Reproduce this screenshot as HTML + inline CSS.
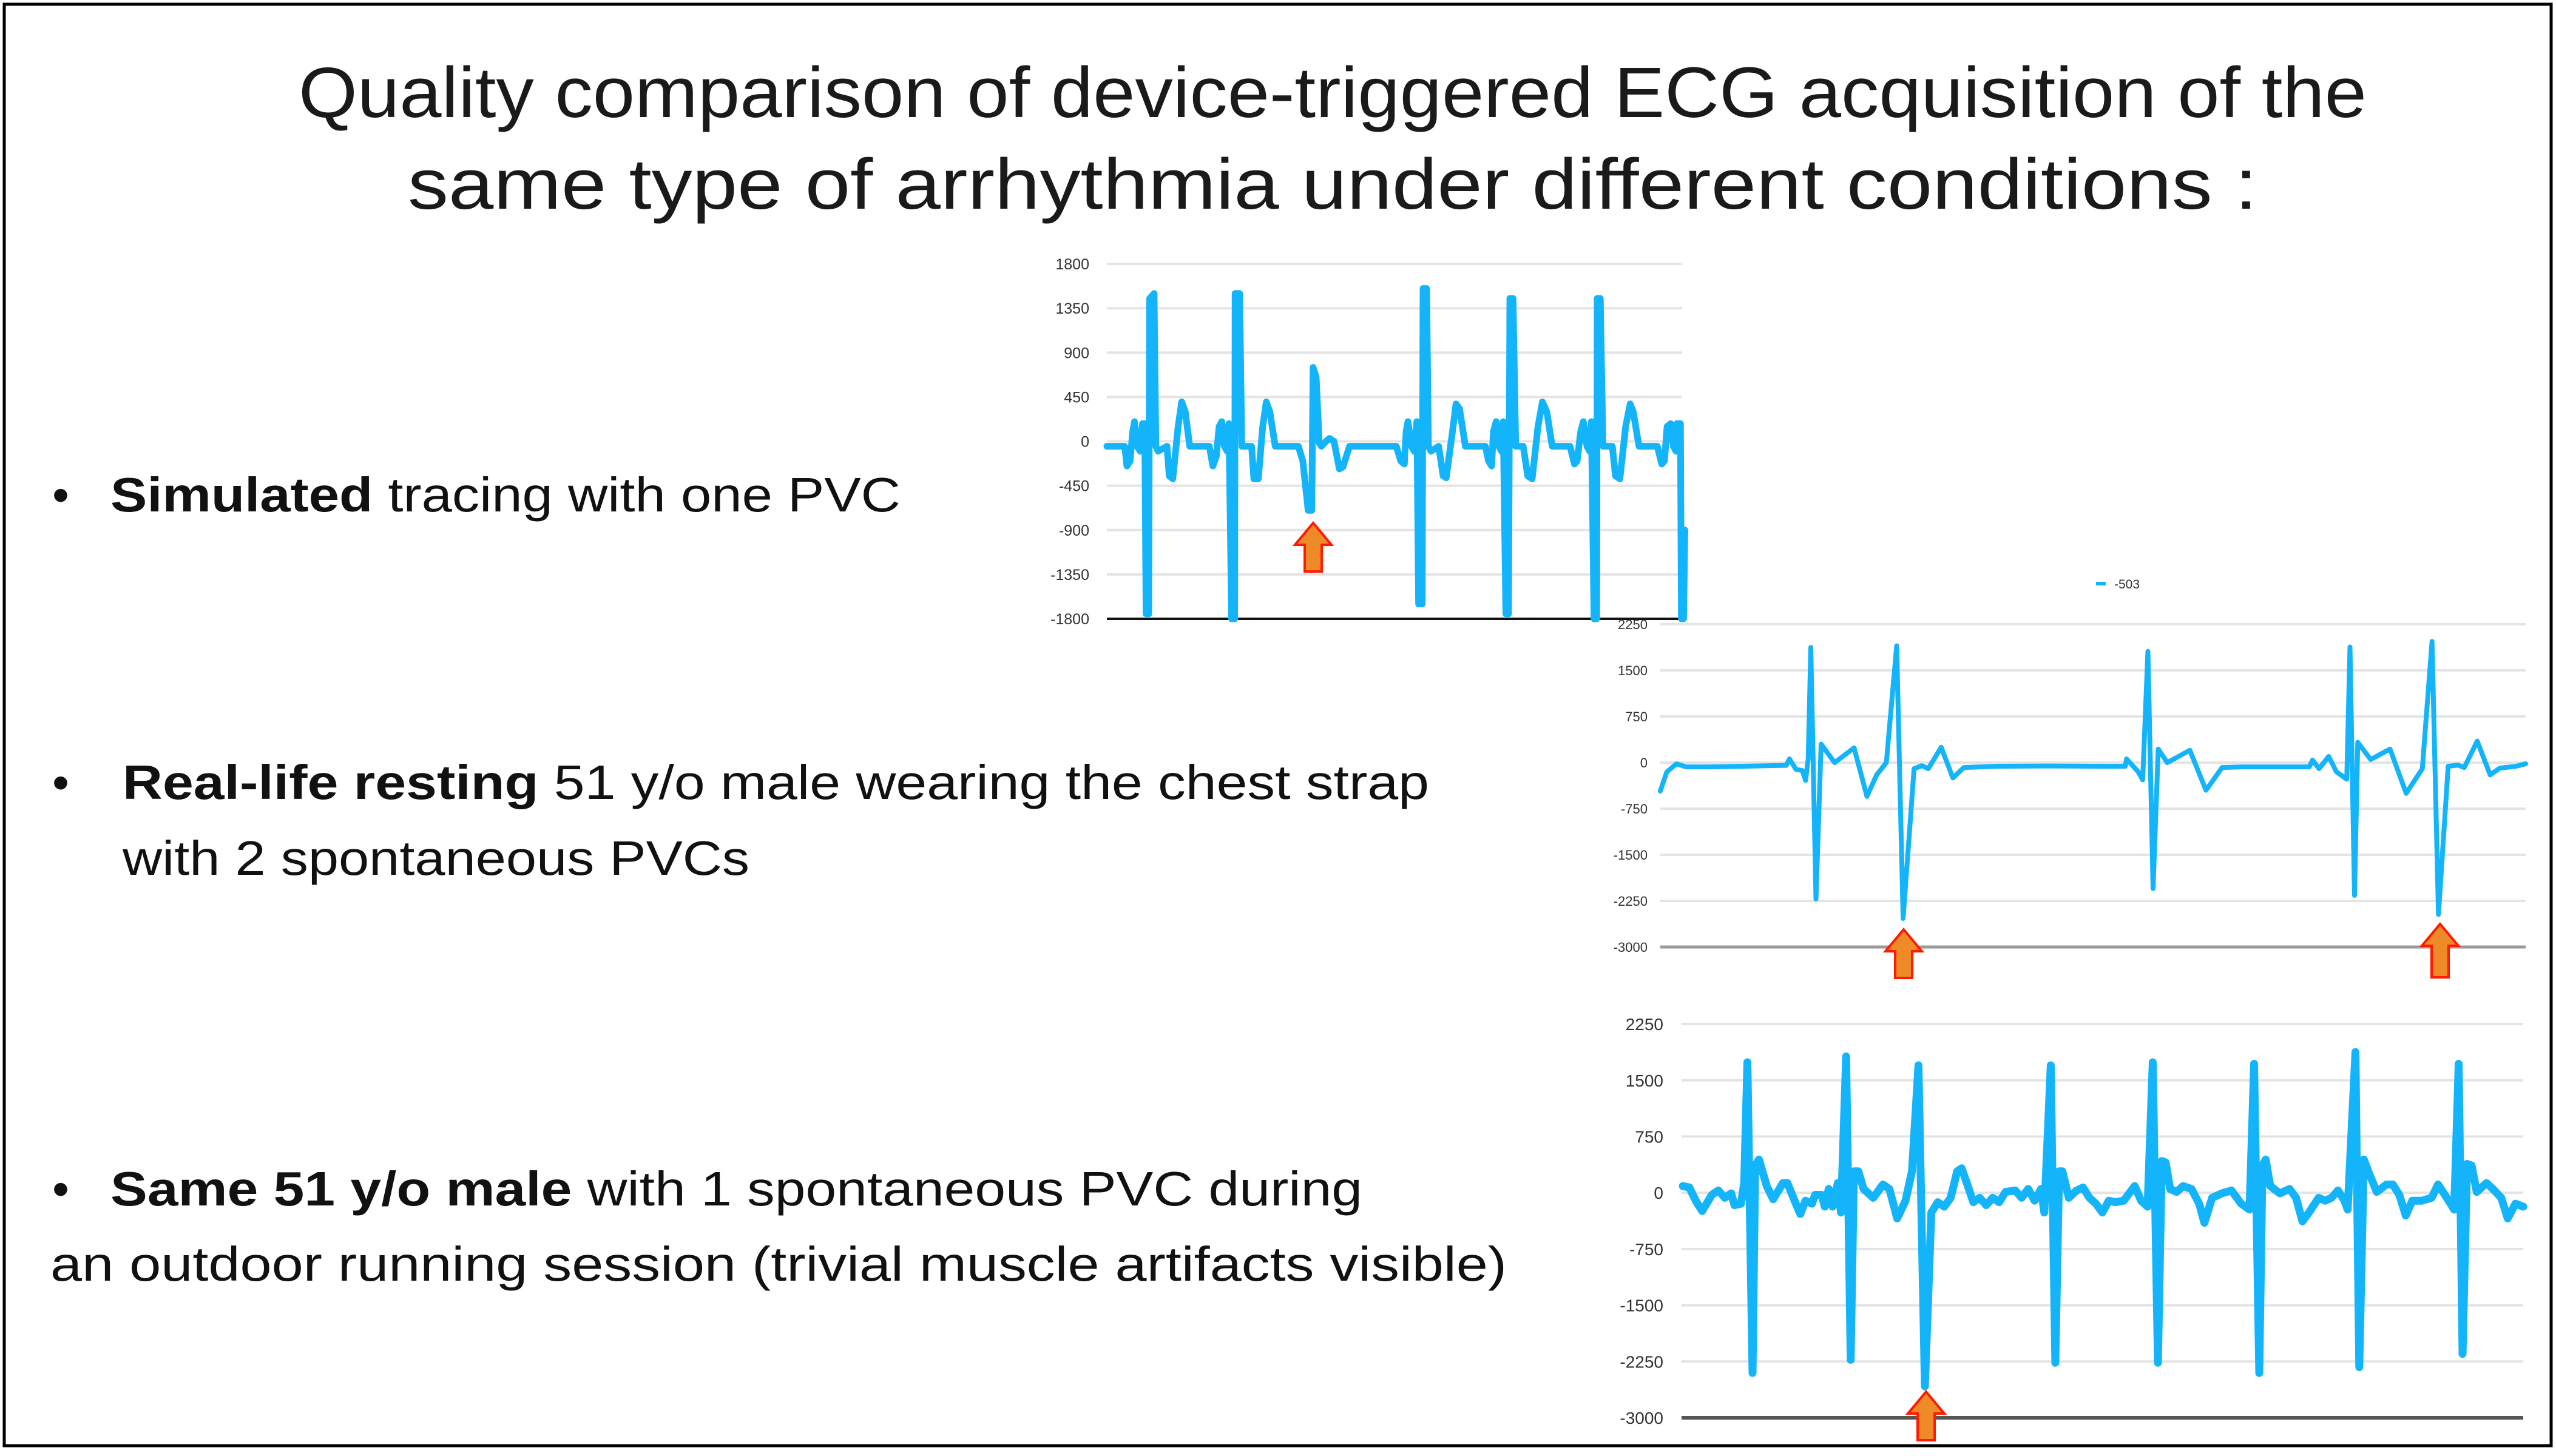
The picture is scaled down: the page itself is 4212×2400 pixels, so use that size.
<!DOCTYPE html>
<html><head><meta charset="utf-8"><title>ECG quality comparison</title>
<style>html,body{margin:0;padding:0;background:#fff}svg{display:block}</style></head>
<body>
<svg id="root" xmlns="http://www.w3.org/2000/svg" width="4212" height="2400" viewBox="0 0 4212 2400">
<rect x="0" y="0" width="4212" height="2400" fill="#fff"/>
<rect x="7" y="7" width="4197" height="2376" fill="none" stroke="#000" stroke-width="5"/>
<g font-family="'Liberation Sans', sans-serif" fill="#111">
<text x="492" y="193" font-size="118" fill="#1a1a1a" textLength="3408" lengthAdjust="spacingAndGlyphs">Quality comparison of device-triggered ECG acquisition of the</text>
<text x="672" y="344" font-size="118" fill="#1a1a1a" textLength="3048" lengthAdjust="spacingAndGlyphs">same type of arrhythmia under different conditions :</text>
<text x="86" y="843" font-size="80">•</text>
<text x="182" y="843" font-size="80" textLength="1302" lengthAdjust="spacingAndGlyphs"><tspan font-weight="bold">Simulated</tspan> tracing with one PVC</text>
<text x="86" y="1317" font-size="80">•</text>
<text x="202" y="1317" font-size="80" textLength="2153" lengthAdjust="spacingAndGlyphs"><tspan font-weight="bold">Real-life resting</tspan> 51 y/o male wearing the chest strap</text>
<text x="202" y="1442" font-size="80" textLength="1033" lengthAdjust="spacingAndGlyphs">with 2 spontaneous PVCs</text>
<text x="86" y="1987" font-size="80">•</text>
<text x="182" y="1987" font-size="80" textLength="2063" lengthAdjust="spacingAndGlyphs"><tspan font-weight="bold">Same 51 y/o male</tspan> with 1 spontaneous PVC during</text>
<text x="83" y="2111" font-size="80" textLength="2400" lengthAdjust="spacingAndGlyphs">an outdoor running session (trivial muscle artifacts visible)</text>
</g>
<g id="charts"></g>
</svg>
<script>
// ---- Chart 1: simulated tracing ----
const c1Ticks = [1800, 1350, 900, 450, 0, -450, -900, -1350, -1800];
const c1T = [0,40,45,52,58,62,68,75,80,85,88,94,96,106,110,115,135,140,148,160,168,176,186,230,238,246,252,258,264,270,274,280,287,288,298,303,325,330,340,350,358,366,378,430,440,452,460,463,470,477,482,492,500,510,522,530,545,650,660,668,672,676,684,690,696,700,708,710,718,722,728,745,755,762,776,784,792,805,850,857,864,868,874,880,886,890,896,902,905,912,918,935,945,955,968,978,988,1000,1040,1050,1056,1064,1070,1078,1084,1088,1094,1100,1101,1108,1114,1135,1142,1152,1165,1175,1182,1195,1236,1246,1252,1258,1266,1272,1278,1280,1288,1290,1295,1298];
const c1V = [-50,-50,-250,-200,100,200,-50,-100,180,180,-1750,-1750,1450,1500,-50,-100,-50,-350,-380,150,400,300,-50,-50,-250,-150,150,200,-50,-100,180,-1800,-1800,1500,1500,-50,-50,-380,-380,150,400,300,-50,-50,-200,-700,-700,750,650,-20,-50,0,30,0,-280,-260,-50,-50,-200,-230,100,200,-50,-100,200,-1650,-1650,1550,1550,-50,-100,-50,-350,-370,100,380,330,-50,-50,-200,-250,100,200,-50,-100,200,-1750,-1750,1450,1450,-50,-50,-350,-380,150,400,300,-50,-50,-230,-200,100,200,-50,-100,200,-1800,-1800,1450,1450,-50,-50,-350,-380,150,380,300,-50,-50,-230,-200,150,180,-50,-100,180,180,-1800,-1800,-900];
// ---- Chart 2: real-life resting ----
const c2Ticks = [2250, 1500, 750, 0, -750, -1500, -2250, -3000];
const c2T = [0,10,25,40,75,125,195,200,210,220,225,229,233,241,249,270,300,320,335,350,366,376,393,405,415,435,453,470,520,600,680,720,722,740,747,755,763,771,785,820,845,870,900,1005,1010,1020,1035,1047,1063,1068,1075,1080,1100,1130,1155,1180,1195,1205,1220,1235,1245,1265,1285,1300,1325,1340];
const c2V = [-463,-154,-20,-70,-70,-60,-45,60,-110,-130,-290,60,1874,-2219,300,0,240,-550,-200,0,1900,-2536,-100,-50,-100,250,-250,-80,-60,-55,-60,-60,60,-150,-280,1808,-2050,220,0,200,-450,-80,-70,-70,40,-100,100,-150,-270,1880,-2160,330,50,220,-500,-100,1971,-2470,-60,-40,-80,350,-200,-90,-60,-20];
const c2Legend = ["-503"];
// ---- Chart 3: running session ----
const c3Ticks = [2250, 1500, 750, 0, -750, -1500, -2250, -3000];
const c3T = [0,10,20,30,45,55,65,75,80,90,95,100,108,112,118,130,140,155,162,175,182,190,200,205,215,220,226,232,240,245,253,260,265,272,280,295,310,320,332,345,355,365,375,385,395,405,415,425,432,440,450,460,470,480,490,500,515,525,535,545,555,560,570,577,583,588,598,610,620,630,640,650,660,670,683,700,710,720,728,736,742,748,755,765,775,788,800,808,820,835,850,865,878,885,893,898,903,910,925,940,950,960,970,985,995,1005,1015,1025,1030,1042,1048,1055,1062,1075,1090,1100,1110,1120,1130,1145,1160,1170,1185,1195,1202,1208,1215,1222,1230,1245,1255,1268,1278,1290,1302];
const c3V = [90,71,-106,-243,-27,31,-67,-8,-165,-145,130,1740,-2403,365,444,90,-86,130,130,-145,-283,-106,-145,-27,-27,-185,51,-185,130,-263,1818,-2227,287,287,51,-67,110,51,-342,-106,287,1700,-2580,-263,-126,-185,-67,287,326,130,-126,-67,-165,-67,-126,12,31,-67,51,-106,51,-263,1700,-2266,287,287,-67,31,71,-67,-145,-263,-106,-126,-106,90,-106,-185,1740,-2266,424,405,51,12,90,51,-145,-400,-67,-8,31,-145,-224,1720,-2403,365,444,90,-8,51,-67,-381,-263,-67,-106,-67,31,-106,-224,1877,-2325,444,287,12,110,110,-27,-303,-106,-106,-67,110,-86,-224,1720,-2148,385,365,12,130,51,-67,-342,-145,-185];

const NS = "http://www.w3.org/2000/svg";
const root = document.getElementById('charts');
function mk(tag, attrs, parent) {
  const e = document.createElementNS(NS, tag);
  for (const k in attrs) e.setAttribute(k, attrs[k]);
  (parent || root).appendChild(e);
  return e;
}
function drawChart(cfg, ticks, ts, vs) {
  const g = mk('g', {});
  
  
  const yMax = ticks[0], yMin = ticks[ticks.length - 1];
  const sy = v => cfg.top + (yMax - v) / (yMax - yMin) * (cfg.bottom - cfg.top);
  const sx = t => cfg.left + (t - cfg.t0) / (cfg.t1 - cfg.t0) * (cfg.right - cfg.left);
  ticks.forEach((tk, i) => {
    const y = sy(tk);
    const isBase = i === ticks.length - 1;
    const gl = mk('line', {x1: cfg.left, x2: cfg.gridRight || cfg.right, y1: y, y2: y,
      stroke: isBase ? cfg.axisColor : '#e4e4e4', 'stroke-width': isBase ? cfg.axisWidth : 4}, g);
    
    
    const tx = mk('text', {x: cfg.labelRight, y: y + cfg.fs * 0.36, 'text-anchor': 'end',
      'font-family': "'Liberation Sans', sans-serif", 'font-size': cfg.fs, fill: '#333'}, g);
    tx.textContent = tk;
    
    
  });
  let d = '';
  ts.forEach((t, i) => { d += (i ? 'L' : 'M') + sx(t).toFixed(1) + ' ' + sy(vs[i]).toFixed(1); });
  const p = mk('path', {d: d, fill: 'none', stroke: '#14b4fa', 'stroke-width': cfg.sw,
    'stroke-linejoin': 'round', 'stroke-linecap': 'round'}, g);
  
  
  return g;
}
function arrow(cx, tipY, len, label) {
  const hw = 30, hh = 36, sw = 14;
  const pts = [[cx, tipY], [cx + hw, tipY + hh], [cx + sw, tipY + hh], [cx + sw, tipY + len],
    [cx - sw, tipY + len], [cx - sw, tipY + hh], [cx - hw, tipY + hh]].map(p => p.join(',')).join(' ');
  const a = mk('polygon', {points: pts, fill: '#ef8a28', stroke: '#ff1a00', 'stroke-width': 4, 'stroke-linejoin': 'miter'});
  
  
}

drawChart({name: 'chart-simulated', left: 1824, right: 2778, gridRight: 2772, top: 435, bottom: 1020, t0: 0, t1: 1300,
  labelRight: 1795, fs: 25, sw: 11, axisColor: '#111', axisWidth: 4}, c1Ticks, c1T, c1V);
drawChart({name: 'chart-resting', left: 2736, right: 4162, top: 1029, bottom: 1561, t0: 0, t1: 1340,
  labelRight: 2715, fs: 22, sw: 8, axisColor: '#9a9a9a', axisWidth: 5}, c2Ticks, c2T, c2V);
drawChart({name: 'chart-running', left: 2771, right: 4158, top: 1688, bottom: 2337, t0: -2, t1: 1302,
  labelRight: 2741, fs: 28, sw: 13, axisColor: '#555', axisWidth: 6}, c3Ticks, c3T, c3V);

// legend for chart 2
const lg = mk('g', {});


mk('rect', {x: 3454, y: 959, width: 16, height: 6, fill: '#14b4fa'}, lg);
const lt = mk('text', {x: 3484, y: 970, 'font-family': "'Liberation Sans', sans-serif", 'font-size': 21, fill: '#333'}, lg);
lt.textContent = c2Legend[0];

arrow(2164, 862, 80, 'pvc-arrow-simulated');
arrow(3137, 1532, 80, 'pvc-arrow-resting-1');
arrow(4021, 1523, 88, 'pvc-arrow-resting-2');
arrow(3174, 2294, 80, 'pvc-arrow-running');
</script>
</body></html>
